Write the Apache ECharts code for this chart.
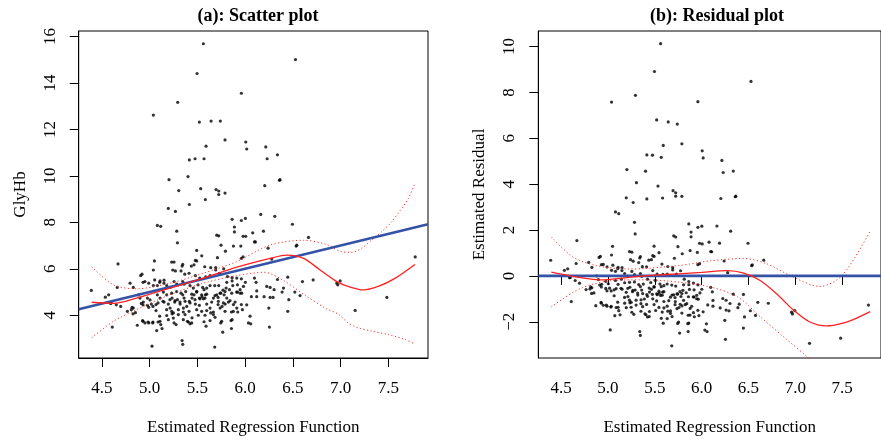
<!DOCTYPE html>
<html><head><meta charset="utf-8">
<script src="https://cdn.jsdelivr.net/npm/echarts@6/dist/echarts.min.js"></script>
<style>html,body{margin:0;padding:0;background:#fff}#c{width:881px;height:441px}</style>
</head><body><div id="c"></div>
<script>
// ---- axis settings ----
const xTicks = [4.5, 5.0, 5.5, 6.0, 6.5, 7.0, 7.5];
const yTicksA = [4, 6, 8, 10, 12, 14, 16];
const yTicksB = [-2, 0, 2, 4, 6, 8, 10];
const xRange = [4.256, 7.915];
const yRangeA = [2.16, 16.24];
const yRangeB = [-3.58, 10.68];

// ---- observations: [estimated regression function, GlyHb] ----
const observations = [
[5.562,15.69],[6.527,15.01],[5.496,14.41],[5.96,13.56],[5.293,13.17],[5.038,12.62],[5.52,12.32],[5.643,12.36],[5.74,12.36],
[5.789,11.55],[6.006,11.46],[6.016,11.16],[6.216,11.25],[5.59,11.28],[5.415,10.69],[5.475,10.74],[5.569,10.74],[6.23,10.74],
[6.338,10.91],[5.202,9.84],[5.401,9.97],[6.359,9.81],[6.365,9.84],[5.304,9.37],[5.534,9.45],[5.695,9.41],[5.723,9.35],
[5.789,9.26],[5.723,9.2],[6.205,9.58],[5.583,8.98],[5.415,8.77],[5.195,8.6],[5.269,8.47],[6.163,8.34],[6.31,8.26],
[5.863,8.13],[5.96,8.08],[6.002,8.17],[6.495,7.92],[5.08,7.87],[5.115,7.83],[5.887,7.8],
[5.887,7.59],[5.283,7.62],[6.079,7.55],[6.191,7.62],[5.702,7.45],[5.723,7.42],[5.978,7.4],[6.006,7.4],[5.29,7.12],
[6.097,7.16],[6.107,7.16],[5.747,7.02],[5.877,6.98],[5.954,6.98],[6.663,7.35],[6.541,7.02],[6.534,6.98],[6.24,6.89],
[5.492,6.79],[5.793,6.76],[5.545,6.56],[5.978,6.51],[5.96,6.45],[6.278,6.42],[5.709,6.48],[5.478,6.36],[5.492,6.34],
[4.668,6.21],[5.049,6.34],[5.255,6.29],[5.23,6.29],[5.346,6.19],[5.339,6.12],[5.436,6.12],[5.464,6.17],[5.576,6.09],
[5.639,6.05],[5.691,6.05],[5.691,5.95],[5.775,6.0],[5.038,5.95],[4.919,5.77],[4.905,5.71],[5.241,5.95],[5.269,5.91],
[5.328,5.91],[5.412,5.81],[5.367,5.77],[5.478,5.71],[5.524,5.6],[5.587,5.65],[5.632,5.71],[5.73,5.81],[5.814,5.67],
[5.863,5.62],[5.912,5.6],[5.96,5.57],[6.097,5.6],[6.114,5.42],[6.338,5.54],[6.446,5.64],[6.6,5.45],[6.712,5.52],
[6.96,5.38],[6.97,5.31],[6.995,5.48],[4.794,5.38],[4.828,5.2],[4.95,5.45],[4.99,5.38],[5.038,5.28],[5.08,5.28],
[5.108,5.48],[5.15,5.51],[5.178,5.28],[5.213,5.2],[5.255,5.45],[5.283,5.34],[5.346,5.45],[5.36,5.34],[5.422,5.28],
[5.457,5.17],[5.506,5.31],[5.555,5.2],[5.569,5.1],[5.597,5.17],[5.632,5.28],[5.681,5.28],[5.723,5.28],[5.768,5.08],
[5.807,5.42],[5.863,5.48],[5.87,5.28],[5.919,5.31],[5.982,5.24],[6.002,5.42],[6.065,4.8],[6.121,5.05],[6.121,4.8],
[6.198,4.8],[6.261,4.77],[6.226,5.24],[6.261,5.2],[6.303,5.1],[6.292,4.77],[6.401,5.17],[6.387,5.0],[6.457,4.67],
[6.52,5.0],[6.575,4.85],[6.247,4.31],[6.446,4.17],[6.254,3.49],[7.152,4.21],[7.484,4.77],[7.781,6.51],[4.388,5.07],
[4.535,4.78],[4.57,4.88],[4.59,4.51],[4.66,5.2],[4.696,4.38],[4.608,3.49],[4.766,4.17],[4.815,4.34],[4.828,4.31],
[4.85,4.11],[4.88,4.88],[4.898,4.74],[4.912,4.51],[4.933,4.57],[4.926,3.77],[4.95,3.67],[4.87,3.57],[4.99,3.67],
[5.031,3.67],[4.976,4.74],[5.003,4.66],[4.976,4.43],[5.017,4.48],[5.066,4.46],[5.066,4.2],[5.024,2.67],[5.073,3.34],
[5.108,3.74],[5.115,3.6],[5.129,3.43],[5.08,4.88],[5.108,4.74],[5.143,5.0],[5.178,4.88],[5.15,4.57],[5.195,4.48],
[5.213,4.31],[5.248,4.1],[5.178,3.99],[5.234,4.06],[5.255,3.67],[5.276,3.6],[5.234,4.74],[5.29,4.67],[5.262,4.57],
[5.318,4.48],[5.346,4.88],[5.36,4.74],[5.339,2.91],[5.346,2.75],[5.353,4.31],[5.388,4.38],[5.37,4.03],[5.395,3.74],
[5.422,3.63],[5.443,3.89],[5.415,4.6],[5.443,4.74],[5.464,4.88],[5.492,5.03],[5.478,4.48],[5.52,4.43],[5.52,4.74],
[5.548,4.8],[5.562,4.71],[5.583,4.88],[5.569,3.72],[5.59,3.53],[5.597,4.48],[5.632,4.31],[5.639,4.1],[5.667,4.03],
[5.681,2.63],[5.667,4.74],[5.702,4.88],[5.716,4.77],[5.744,4.95],[5.716,4.46],[5.758,4.38],[5.744,3.67],[5.765,3.27],
[5.779,4.88],[5.807,4.74],[5.79,4.48],[5.824,4.57],[5.856,4.14],[5.863,3.81],[5.856,3.43],[5.877,4.46],[5.912,4.31],
[5.947,4.95],[5.96,4.46],[6.051,3.96],[6.058,3.63],[5.8,5.17],[5.835,5.1],[5.919,5.0],[5.947,5.1],
[5.23,4.95],[5.282,5.02],[5.328,4.95],[5.377,5.02],[5.44,4.91],[5.492,5.0],[5.544,4.88],[5.597,4.91],[5.684,4.85],
[5.737,4.95],[5.789,5.02],[5.859,4.95],[5.911,5.0],[5.964,4.95],
[5.212,4.67],[5.265,4.63],[5.317,4.57],[5.37,4.6],[5.422,4.53],[5.474,4.67],[5.527,4.71],[5.579,4.74],[5.649,4.57],
[5.719,4.6],[5.771,4.53],[5.841,4.63],[5.894,4.57],[6.016,4.45],
[5.177,4.24],[5.23,4.17],[5.3,4.24],[5.352,4.14],[5.412,4.17],[5.492,4.24],[5.544,4.17],[5.597,4.2],[5.667,4.14],
[5.737,4.31],[5.789,4.17],[5.876,4.17],[5.922,4.14],[5.971,4.24],
[5.195,3.81],[5.247,3.88],[5.3,4.03],[5.352,3.81],[5.405,3.71],[5.44,3.67],[5.509,4.0],[5.579,4.0],[5.632,3.77],
[5.684,3.91],[5.754,3.74],[5.852,3.77],[6.034,3.67],
[4.93,5.42],[5.052,5.52],[5.104,5.42],[5.149,5.38],[4.597,4.53],[4.65,4.45],[4.807,4.24],[4.825,4.06],
[4.929,4.45],[4.989,4.34],[5.034,4.38],[5.087,4.53],[5.139,4.6],[4.929,3.74],[4.982,3.71],[5.034,3.71],[5.087,3.71],[5.104,3.96]
];

// ---- fitted regression line (GlyHb on fitted values) ----
const fitIntercept = 0;
const fitSlope = 1;

// ---- panel (a) smooth fit and band ----
const smoothAX = [4.392, 4.619, 4.863, 5.213, 5.562, 5.912, 6.261, 6.436, 6.61, 6.785, 6.96, 7.079, 7.236, 7.393, 7.568, 7.778];
const smoothAY = [4.56, 4.51, 4.74, 5.17, 5.6, 6.07, 6.45, 6.59, 6.45, 5.95, 5.45, 5.24, 5.09, 5.24, 5.59, 6.19];
const upperAX = [4.392, 4.62, 4.86, 5.21, 5.56, 5.91, 6.26, 6.61, 6.85, 7.008, 7.113, 7.218, 7.323, 7.428, 7.533, 7.637, 7.707, 7.78];
const upperAY = [6.09, 5.31, 5.14, 5.38, 5.81, 6.31, 7.02, 7.23, 7.05, 6.74, 6.71, 6.88, 7.23, 7.59, 8.02, 8.59, 9.01, 9.7];
const lowerAX = [4.392, 4.62, 4.86, 5.21, 5.56, 5.91, 6.2, 6.4, 6.62, 6.85, 6.974, 7.079, 7.183, 7.323, 7.498, 7.673, 7.76];
const lowerAY = [3.03, 3.74, 4.24, 4.88, 5.38, 5.71, 5.85, 5.5, 4.88, 4.28, 4.05, 3.67, 3.46, 3.32, 3.17, 2.96, 2.79];

// ---- panel (b) smooth fit and band ----
const smoothBX = [4.395, 4.63, 4.91, 5.22, 5.5, 5.75, 6.0, 6.275, 6.45, 6.625, 6.8, 6.98, 7.15, 7.33, 7.5, 7.65, 7.8];
const smoothBY = [0.16, -0.02, -0.17, -0.06, 0.03, 0.09, 0.15, 0.23, 0.12, -0.2, -0.78, -1.49, -2.0, -2.18, -2.07, -1.85, -1.56];
const upperBX = [4.395, 4.63, 4.875, 5.22, 5.75, 6.1, 6.45, 6.7, 6.98, 7.26, 7.5, 7.8];
const upperBY = [1.70, 0.81, 0.45, 0.30, 0.45, 0.66, 0.76, 0.52, -0.06, -0.46, 0.02, 1.96];
const lowerBX = [4.395, 4.7, 5.05, 5.4, 5.75, 6.1, 6.385, 6.625, 6.87, 7.12, 7.35];
const lowerBY = [-1.35, -0.56, -0.2, -0.17, -0.27, -0.49, -0.92, -1.78, -2.64, -3.5, -4.3];

const FONT = 'Liberation Serif';
const zip = (xs, ys) => xs.map((x, i) => [x, ys[i]]);
const residuals = observations.map(p => [p[0], p[1] - (fitIntercept + fitSlope * p[0])]);
const fitLine = xRange.map(x => [x, fitIntercept + fitSlope * x]);
const zeroLine = xRange.map(x => [x, 0]);
const fmtY = v => (v < 0 ? '\u2212' + Math.abs(v) : String(v));

function xAxisDef(gi) {
  return {
    type: 'value', gridIndex: gi, min: xRange[0], max: xRange[1],
    name: 'Estimated Regression Function', nameLocation: 'middle', nameGap: 61,
    nameTextStyle: { fontFamily: FONT, fontSize: 17, color: '#000' },
    axisLine: { show: true, lineStyle: { color: '#000', width: 1 } },
    axisTick: { show: true, length: 9, customValues: xTicks, lineStyle: { color: '#000' } },
    axisLabel: { customValues: xTicks, margin: 22, fontFamily: FONT, fontSize: 17, color: '#000', formatter: v => v.toFixed(1) },
    splitLine: { show: false }
  };
}
function yAxisDef(gi, rng, ticks, name, gap, lblMargin) {
  return {
    type: 'value', gridIndex: gi, min: rng[0], max: rng[1],
    name: name, nameLocation: 'middle', nameGap: gap, nameRotate: 90,
    nameTextStyle: { fontFamily: FONT, fontSize: 17, color: '#000' },
    axisLine: { show: true, lineStyle: { color: '#000', width: 1 } },
    axisTick: { show: true, length: 9, customValues: ticks, lineStyle: { color: '#000' } },
    axisLabel: { customValues: ticks, rotate: 90, margin: lblMargin, fontFamily: FONT, fontSize: 17, color: '#000', formatter: fmtY },
    splitLine: { show: false }
  };
}
function lineS(gi, data, color, width, type, z) {
  return { type: 'line', xAxisIndex: gi, yAxisIndex: gi, data: data, showSymbol: false, symbol: 'none',
    smooth: 0.3, lineStyle: { color: color, width: width, type: type }, z: z, silent: true, clip: true };
}
const chart = echarts.init(document.getElementById('c'), null, { renderer: 'canvas' });
chart.setOption({
  animation: false,
  backgroundColor: '#fff',
  title: [
    { text: '(a): Scatter plot', left: 253, top: 2, textAlign: 'center', textStyle: { fontFamily: FONT, fontWeight: 'bold', fontSize: 18, color: '#000' } },
    { text: '(b): Residual plot', left: 712, top: 2, textAlign: 'center', textStyle: { fontFamily: FONT, fontWeight: 'bold', fontSize: 18, color: '#000' } }
  ],
  grid: [
    { left: 78.7, top: 31, width: 349.3, height: 330.5, show: true, borderColor: '#000', borderWidth: 1, backgroundColor: 'transparent' },
    { left: 538.3, top: 31, width: 348.6, height: 330.5, show: true, borderColor: '#000', borderWidth: 1, backgroundColor: 'transparent' }
  ],
  xAxis: [xAxisDef(0), xAxisDef(1)],
  yAxis: [yAxisDef(0, yRangeA, yTicksA, 'GlyHb', 50, 20), yAxisDef(1, yRangeB, yTicksB, 'Estimated Residual', 50, 20)],
  series: [
    { type: 'scatter', xAxisIndex: 0, yAxisIndex: 0, data: observations, symbol: 'circle', symbolSize: 3.2, itemStyle: { color: '#000' }, z: 2, silent: true },
    lineS(0, zip(upperAX, upperAY), '#ff3030', 1, [1.2, 2.4], 3),
    lineS(0, zip(lowerAX, lowerAY), '#ff3030', 1, [1.2, 2.4], 3),
    lineS(0, fitLine, '#3352a8', 2.6, 'solid', 4),
    lineS(0, zip(smoothAX, smoothAY), '#ff2020', 1.3, 'solid', 5),
    { type: 'scatter', xAxisIndex: 1, yAxisIndex: 1, data: residuals, symbol: 'circle', symbolSize: 3.2, itemStyle: { color: '#000' }, z: 2, silent: true },
    lineS(1, zip(upperBX, upperBY), '#ff3030', 1, [1.2, 2.4], 3),
    lineS(1, zip(lowerBX, lowerBY), '#ff3030', 1, [1.2, 2.4], 3),
    lineS(1, zeroLine, '#3352a8', 2.6, 'solid', 4),
    lineS(1, zip(smoothBX, smoothBY), '#ff2020', 1.3, 'solid', 5)
  ]
});
</script>
</body></html>
